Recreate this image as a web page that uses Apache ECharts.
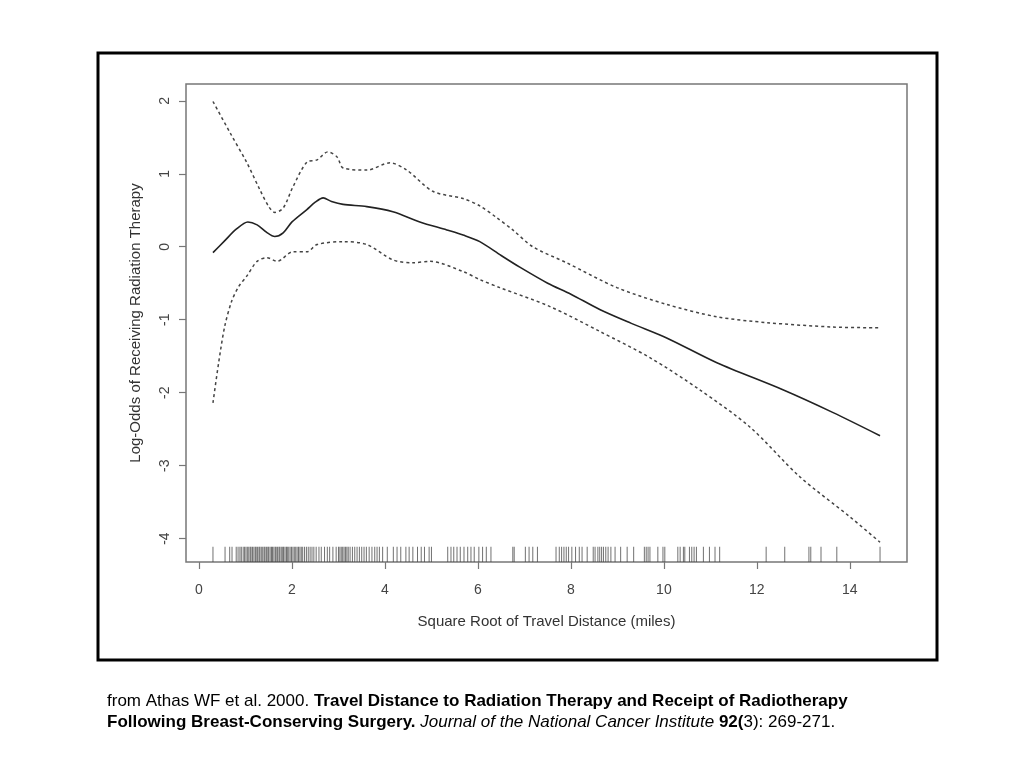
<!DOCTYPE html>
<html>
<head>
<meta charset="utf-8">
<script src="https://cdn.jsdelivr.net/npm/echarts@6/dist/echarts.min.js"></script>
<style>
html,body{margin:0;padding:0;background:#fff;}
#chart{width:1024px;height:768px;}
</style>
</head>
<body>
<div id="chart"></div>
<script>
// ---- data ----
const xTicks = [0, 2, 4, 6, 8, 10, 12, 14];
const yTicks = [-4, -3, -2, -1, 0, 1, 2];

const fitX = [0.3,0.55,0.8,1.05,1.25,1.45,1.63,1.81,2.0,2.32,2.5,2.67,2.85,3.1,3.61,4.17,4.75,5.33,5.68,6.04,6.5,6.9,7.5,8.0,8.62,9.3,10.06,11.14,12.56,13.63,14.65];
const fitY = [-0.08,0.08,0.24,0.34,0.30,0.20,0.14,0.19,0.34,0.51,0.61,0.67,0.62,0.58,0.55,0.48,0.34,0.23,0.16,0.07,-0.12,-0.28,-0.50,-0.65,-0.86,-1.05,-1.25,-1.59,-1.96,-2.27,-2.59];

const upperX = [0.3,0.67,1.03,1.31,1.5,1.63,1.81,2.02,2.32,2.54,2.77,2.97,3.1,3.61,4.11,4.47,5.03,5.68,6.04,6.4,6.75,7.18,7.91,8.99,10.06,11.14,12.22,13.63,14.65];
const upperY = [1.99,1.56,1.15,0.78,0.55,0.47,0.53,0.82,1.16,1.19,1.30,1.23,1.08,1.05,1.15,1.05,0.76,0.66,0.56,0.40,0.23,0.00,-0.22,-0.56,-0.79,-0.96,-1.04,-1.10,-1.11];

const lowerX = [0.3,0.42,0.55,0.7,0.85,1.03,1.25,1.46,1.68,2.02,2.32,2.54,3.1,3.61,4.17,4.6,4.97,5.68,6.04,6.47,7.55,8.62,9.7,10.77,11.85,12.92,14.0,14.65];
const lowerY = [-2.14,-1.6,-1.1,-0.75,-0.55,-0.40,-0.20,-0.15,-0.20,-0.07,-0.07,0.03,0.07,0.03,-0.18,-0.22,-0.20,-0.34,-0.45,-0.56,-0.82,-1.16,-1.52,-1.96,-2.47,-3.15,-3.70,-4.05];

// rug (observed travel distances, square-root miles)
const rugX = [0.30,0.56,0.66,0.71,0.80,0.84,0.88,0.91,0.95,0.98,1.01,1.04,1.07,1.10,1.12,1.15,1.18,1.21,1.23,1.26,1.29,1.31,1.34,1.37,1.40,1.42,1.45,1.48,1.50,1.53,1.56,1.58,1.61,1.64,1.66,1.69,1.72,1.74,1.77,1.80,1.82,1.85,1.88,1.90,1.93,1.96,1.99,2.02,2.05,2.08,2.11,2.14,2.17,2.20,2.23,2.27,2.31,2.35,2.39,2.43,2.47,2.52,2.58,2.63,2.70,2.76,2.81,2.88,2.95,3.00,3.03,3.06,3.09,3.12,3.15,3.18,3.21,3.25,3.30,3.35,3.40,3.45,3.50,3.55,3.60,3.66,3.72,3.78,3.83,3.88,3.95,4.05,4.18,4.26,4.34,4.45,4.52,4.60,4.70,4.78,4.85,4.95,5.00,5.35,5.42,5.48,5.55,5.62,5.70,5.78,5.85,5.92,6.02,6.10,6.18,6.28,6.75,6.78,7.02,7.10,7.18,7.28,7.68,7.75,7.80,7.85,7.90,7.95,8.02,8.10,8.18,8.24,8.35,8.48,8.52,8.58,8.62,8.66,8.70,8.75,8.80,8.86,8.95,9.07,9.21,9.35,9.58,9.62,9.66,9.70,9.87,9.98,10.02,10.30,10.35,10.42,10.45,10.55,10.60,10.65,10.70,10.85,10.98,11.10,11.20,12.20,12.60,13.12,13.16,13.38,13.72,14.65];

const xName = 'Square Root of Travel Distance (miles)';
const yName = 'Log-Odds of Receiving Radiation Therapy';

// ---- build ----
const zip = (a, b) => a.map((v, i) => [v, b[i]]);
const RUG_Y = -4.215;
const FONT = '"Liberation Sans", Arial, sans-serif';

const chart = echarts.init(document.getElementById('chart'), null, {renderer: 'canvas'});
chart.setOption({
  animation: false,
  backgroundColor: '#fff',
  grid: {left: 186, top: 84, width: 721, height: 478, show: true, borderColor: '#777', borderWidth: 1.5, backgroundColor: 'transparent'},
  xAxis: {
    type: 'value', min: -0.28, max: 15.23,
    splitLine: {show: false},
    axisLine: {show: false, onZero: false},
    axisTick: {show: true, customValues: xTicks, length: 7, lineStyle: {color: '#777', width: 1.2}},
    axisLabel: {customValues: xTicks, margin: 21, fontSize: 14, color: '#444', fontFamily: FONT},
    name: xName, nameLocation: 'middle', nameGap: 52,
    nameTextStyle: {fontSize: 15, color: '#333', fontFamily: FONT}
  },
  yAxis: {
    type: 'value', min: -4.32, max: 2.23,
    splitLine: {show: false},
    axisLine: {show: false, onZero: false},
    axisTick: {show: true, customValues: yTicks, length: 7, lineStyle: {color: '#777', width: 1.2}},
    axisLabel: {customValues: yTicks, rotate: 90, margin: 14, fontSize: 14, color: '#444', fontFamily: FONT},
    name: yName, nameLocation: 'middle', nameGap: 43,
    nameTextStyle: {fontSize: 15, color: '#333', fontFamily: FONT}
  },
  series: [
    {type: 'line', data: zip(fitX, fitY), showSymbol: false, smooth: 0.3, silent: true,
     lineStyle: {color: '#222', width: 1.6}},
    {type: 'line', data: zip(upperX, upperY), showSymbol: false, smooth: 0.3, silent: true,
     lineStyle: {color: '#444', width: 1.5, type: [3, 3]}},
    {type: 'line', data: zip(lowerX, lowerY), showSymbol: false, smooth: 0.3, silent: true,
     lineStyle: {color: '#444', width: 1.5, type: [3, 3]}},
    {type: 'scatter', data: rugX.map(v => [v, RUG_Y]), symbol: 'rect', symbolSize: [1, 15], silent: true,
     itemStyle: {color: 'rgba(0,0,0,0.7)'}}
  ],
  graphic: [
    {type: 'rect', shape: {x: 98, y: 53, width: 839, height: 607}, style: {fill: null, stroke: '#000', lineWidth: 3}, silent: true},
    {type: 'text', left: 107, top: 691, silent: true,
     style: {
       text: '{n|from Athas WF et al. 2000. }{b|Travel Distance to Radiation Therapy and Receipt of Radiotherapy}\n{b|Following Breast-Conserving Surgery.}{n| }{i|Journal of the National Cancer Institute}{n| }{b|92(}{n|3): 269-271.}',
       fill: '#000', fontSize: 17, fontFamily: FONT, lineHeight: 21,
       rich: {
         n: {fontSize: 17, fontFamily: FONT, fill: '#000', lineHeight: 21},
         b: {fontSize: 17, fontFamily: FONT, fontWeight: 'bold', fill: '#000', lineHeight: 21},
         i: {fontSize: 17, fontFamily: FONT, fontStyle: 'italic', fill: '#000', lineHeight: 21}
       }
     }}
  ]
});
</script>
</body>
</html>
